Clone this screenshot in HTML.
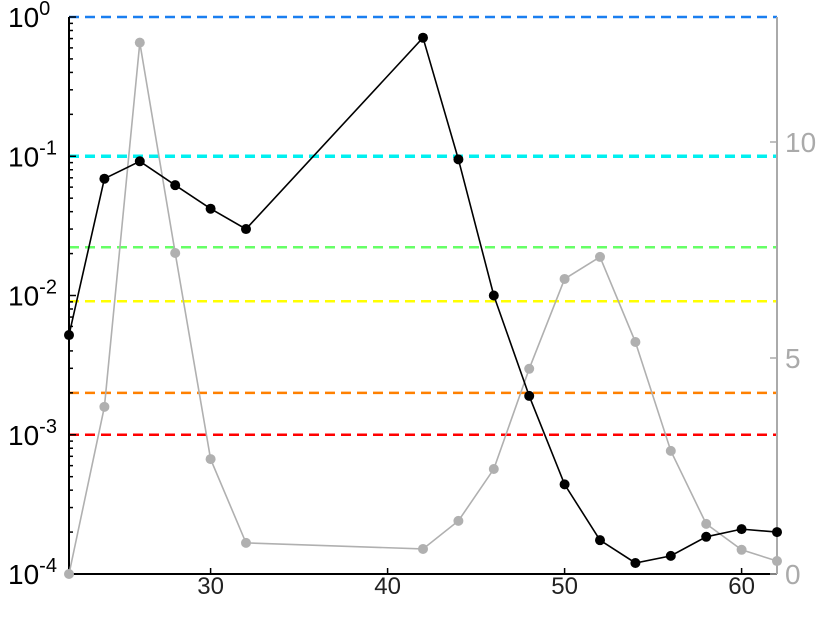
<!DOCTYPE html>
<html><head><meta charset="utf-8"><style>
body{margin:0;background:#fff;}
svg{display:block;font-family:"Liberation Sans",sans-serif;}
</style></head><body>
<svg id="chart" width="824" height="623" viewBox="0 0 824 623"></svg>
<script>
const xValues=[22,24,26,28,30,32,42,44,46,48,50,52,54,56,58,60,62];
const leftValues=[0.0052,0.069,0.092,0.062,0.042,0.030,0.71,0.095,0.01,0.0019,0.00044,0.000175,0.00012,0.000135,0.000185,0.00021,0.0002];
const rightValues=[0,3.87,12.3,7.43,2.66,0.72,0.58,1.23,2.43,4.75,6.83,7.34,5.37,2.85,1.16,0.56,0.3];
const refLevels=[1,0.1,0.0222,0.0091,0.002,0.001];
const refColors=["#1a7ff0","#00f0f0","#66ff66","#ffff00","#ff8000","#ff0000"];
const xTicks=[30,40,50,60];
const leftTickExps=[0,-1,-2,-3,-4];
const rightTicks=[0,5,10];

const NS="http://www.w3.org/2000/svg";
const svg=document.getElementById('chart');
const L=69,R=777,T=17,B=574;
const xS=v=>L+(v-22)/(62-22)*(R-L);
const yL=v=>T+(-Math.log10(v))/4*(B-T);
const yR=v=>B-v*43.2;
function mk(tag,a,parent){const e=document.createElementNS(NS,tag);for(const k in a)e.setAttribute(k,a[k]);(parent||svg).appendChild(e);return e;}

refLevels.forEach((v,i)=>{
  const l=mk('line',{x1:L,x2:R,y1:yL(v),y2:yL(v),stroke:refColors[i],'stroke-width':i==1?3.5:2.5,'stroke-dasharray':'10,6'});
  
  
});

let ax=mk('line',{x1:L,x2:L,y1:T,y2:B,stroke:'#000','stroke-width':2});


for(let e=0;e>-4;e--){for(let m=2;m<10;m++){const y=yL(m*Math.pow(10,e-1));mk('line',{x1:L,x2:L+4,y1:y,y2:y,stroke:'#000','stroke-width':1.5});}}
let bx=mk('line',{x1:L,x2:R,y1:B,y2:B,stroke:'#000','stroke-width':2});


let rx=mk('line',{x1:R,x2:R,y1:T,y2:B,stroke:'#aaa','stroke-width':2});



xTicks.forEach(v=>{
  mk('line',{x1:xS(v),x2:xS(v),y1:B,y2:B-6,stroke:'#000','stroke-width':1.5});
  const t=mk('text',{x:xS(v),y:B+20,'text-anchor':'middle','font-size':24,fill:'#222'});t.textContent=v;
  
  
});
leftTickExps.forEach(e=>{
  const y=yL(Math.pow(10,e));
  mk('line',{x1:L,x2:L+7,y1:y,y2:y,stroke:'#000','stroke-width':1.5});
  const t=mk('text',{x:8,y:y+10,'font-size':28,fill:'#000'});
  t.textContent='10';
  const s=mk('tspan',{dy:-12,'font-size':20},t);s.textContent=String(e);
  
  
});
rightTicks.forEach(v=>{
  mk('line',{x1:R-7,x2:R,y1:yR(v),y2:yR(v),stroke:'#aaa','stroke-width':1.5});
  const t=mk('text',{x:R+8,y:yR(v)+10,'font-size':28,fill:'#aaa'});t.textContent=v;
  
  
});

function series(vals,yf,color,name){
  const p=mk('polyline',{points:xValues.map((x,i)=>xS(x)+','+yf(vals[i])).join(' '),fill:'none',stroke:color,'stroke-width':1.6});
  
  
  xValues.forEach((x,i)=>{
    const c=mk('circle',{cx:xS(x),cy:yf(vals[i]),r:5,fill:color});
    
    
  });
}
series(rightValues,yR,'#b0b0b0','right-series');
series(leftValues,yL,'#000','left-series');
</script>
</body></html>
